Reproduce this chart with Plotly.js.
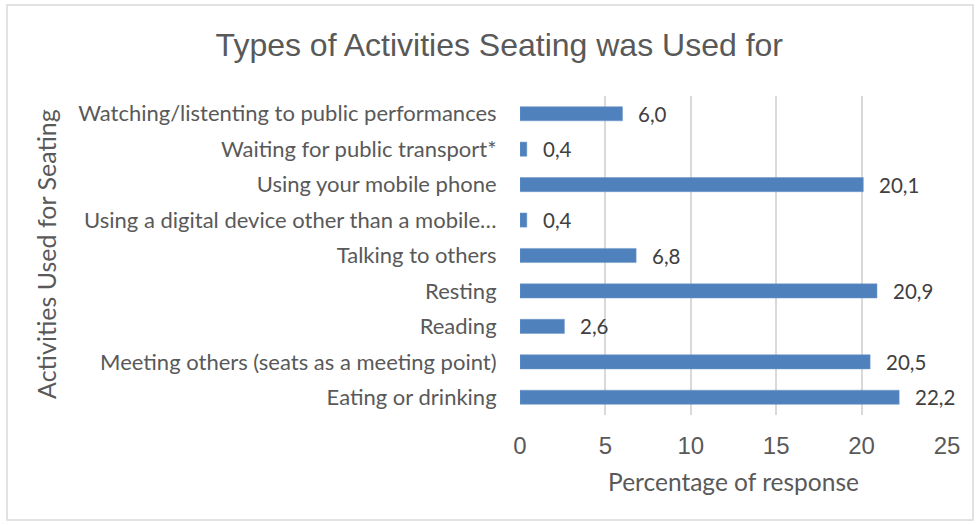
<!DOCTYPE html>
<html>
<head>
<meta charset="utf-8">
<script src="https://cdn.plot.ly/plotly-3.0.1.min.js"></script>
<style>
html,body{margin:0;padding:0;background:#fff;}
#chart{width:979px;height:525px;}
</style>
</head>
<body>
<div id="chart"></div>
<script>
const categories = [
  "Eating or drinking",
  "Meeting others (seats as a meeting point)",
  "Reading",
  "Resting",
  "Talking to others",
  "Using a digital device other than a mobile…",
  "Using your mobile phone",
  "Waiting for public transport*",
  "Watching/listenting to public performances"
];
const values = [22.2, 20.5, 2.6, 20.9, 6.8, 0.4, 20.1, 0.4, 6.0];
const valueLabels = ["22,2", "20,5", "2,6", "20,9", "6,8", "0,4", "20,1", "0,4", "6,0"];
const xTicks = [0, 5, 10, 15, 20, 25];

const labelFont = "Lato, 'Open Sans', sans-serif";
const numFont = "'Liberation Sans', Arial, sans-serif";

const trace = {
  type: 'bar',
  orientation: 'h',
  x: values,
  y: categories,
  marker: {color: '#4F81BD', line: {color: '#6f98cb', width: 0.5}},
  hoverinfo: 'skip'
};

const annotations = values.map((v, i) => ({
  x: v, y: categories[i], xref: 'x', yref: 'y',
  text: valueLabels[i], showarrow: false,
  xanchor: 'left', yanchor: 'middle', xshift: 14,
  font: {family: labelFont, size: 20.5, color: '#404040'}
}));

annotations.push({
  xref: 'paper', yref: 'paper', x: (46 - 520) / 427, y: 0.505,
  xanchor: 'center', yanchor: 'middle', textangle: -90,
  text: 'Activities Used for Seating', showarrow: false,
  font: {family: labelFont, size: 25, color: '#595959'}
});

const layout = {
  width: 979, height: 525,
  margin: {l: 520, r: 32, t: 96, b: 110, pad: 0},
  paper_bgcolor: '#ffffff', plot_bgcolor: '#ffffff',
  showlegend: false,
  bargap: 0.6,
  title: {
    text: 'Types of Activities Seating was Used for',
    font: {family: numFont, size: 32, color: '#595959'},
    x: 0.51, xanchor: 'center', y: 0.915, yanchor: 'middle'
  },
  xaxis: {
    range: [0, 25],
    tickvals: xTicks,
    ticktext: xTicks.map(String),
    showgrid: true, gridcolor: '#d9d9d9', gridwidth: 2,
    zeroline: false, showline: false,
    ticks: 'outside', ticklen: 9, tickcolor: 'rgba(0,0,0,0)',
    tickfont: {family: numFont, size: 24, color: '#595959'},
    title: {text: 'Percentage of response', standoff: 16,
      font: {family: labelFont, size: 24.5, color: '#595959'}},
    fixedrange: true
  },
  yaxis: {
    type: 'category',
    showgrid: false, zeroline: false, showline: false,
    ticks: 'outside', ticklen: 18, tickcolor: 'rgba(0,0,0,0)',
    tickfont: {family: labelFont, size: 22, color: '#595959'},
    automargin: false,
    fixedrange: true
  },
  annotations: annotations,
  shapes: [{
    type: 'rect', xref: 'paper', yref: 'paper',
    x0: -513/427, x1: 1 + 26/427, y0: -105/319, y1: 1 + 91/319,
    line: {color: '#d9d9d9', width: 1.5}, fillcolor: 'rgba(0,0,0,0)', layer: 'below'
  }]
};

Plotly.newPlot('chart', [trace], layout, {displayModeBar: false, staticPlot: true});
</script>
</body>
</html>
